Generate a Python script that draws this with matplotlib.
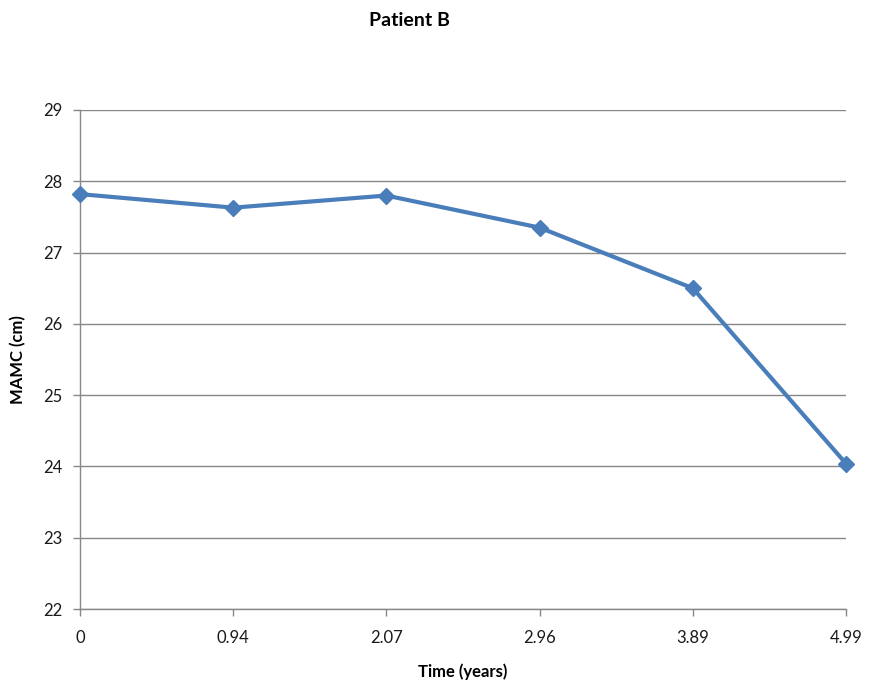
import matplotlib
matplotlib.use("Agg")
import matplotlib.pyplot as plt
import numpy as np

# data
time_labels = ["0", "0.94", "2.07", "2.96", "3.89", "4.99"]
mamc_cm = [27.82, 27.63, 27.80, 27.35, 26.50, 24.04]
y_ticks = [22, 23, 24, 25, 26, 27, 28, 29]

plt.rcParams['font.family'] = ['Lato', 'DejaVu Sans']

fig = plt.figure(figsize=(8.72, 6.86), dpi=100)
ax = fig.add_axes([80 / 872, 1 - 609 / 686, 766 / 872, 499 / 686])

x = np.arange(len(time_labels))
ax.plot(x, mamc_cm, color='#4A7EBB', linewidth=3.0, marker='D',
        markersize=8.5, markeredgecolor='#4A7EBB', markerfacecolor='#4A7EBB',
        zorder=3, clip_on=False)

ax.set_xlim(0, len(time_labels) - 1)
ax.set_ylim(22, 29)
ax.set_xticks(x)
ax.set_xticklabels(time_labels)
ax.set_yticks(y_ticks)

# gridlines
ax.grid(axis='y', color='#878787', linewidth=1.0)
ax.set_axisbelow(True)

for side in ['top', 'right']:
    ax.spines[side].set_visible(False)
for side in ['left', 'bottom']:
    ax.spines[side].set_color('#878787')
    ax.spines[side].set_linewidth(1.0)

ax.tick_params(axis='both', colors='#878787', length=5, width=1,
               labelcolor='#1a1a1a', labelsize=12)
ax.tick_params(axis='x', pad=10)
ax.tick_params(axis='y', pad=8)

ax.set_xlabel('Time (years)', fontsize=12, fontweight='bold', labelpad=13)
ax.set_ylabel('MAMC (cm)', fontsize=12, fontweight='bold', labelpad=12)

fig.text(409 / 872, 1 - 21 / 686, 'Patient B', fontsize=14, fontweight='bold',
         ha='center', va='center')

fig.savefig('out.png', dpi=100)
